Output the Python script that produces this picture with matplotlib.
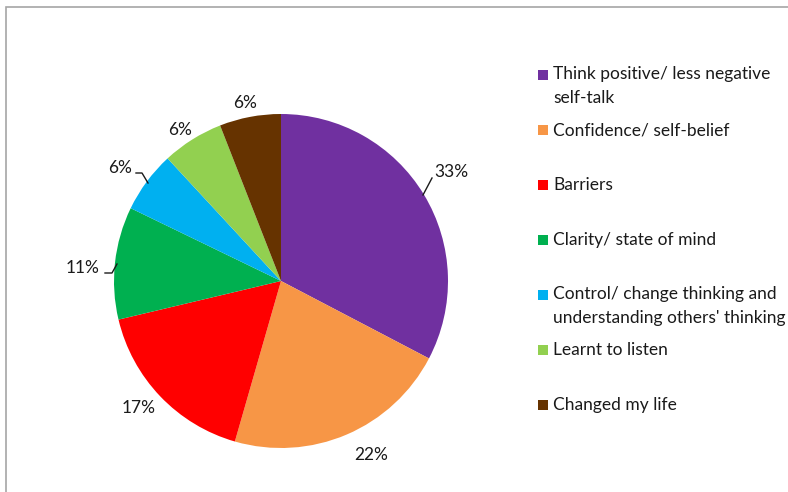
import matplotlib.pyplot as plt
from matplotlib.patches import Rectangle

plt.rcParams['font.family'] = ['Lato', 'DejaVu Sans']

categories = ["Think positive/ less negative\nself-talk",
              "Confidence/ self-belief",
              "Barriers",
              "Clarity/ state of mind",
              "Control/ change thinking and\nunderstanding others' thinking",
              "Learnt to listen",
              "Changed my life"]
values = [33, 22, 17, 11, 6, 6, 6]
colors = ['#7030A0', '#F79646', '#FF0000', '#00B050', '#00B0F0', '#92D050', '#663300']

W, H = 788, 492
fig = plt.figure(figsize=(W / 100, H / 100), dpi=100)

# outer chart border (cut off at right/bottom as in the source)
fig.add_artist(Rectangle((6 / W, -0.1), 1.2, (H - 7) / H + 0.1, transform=fig.transFigure,
                         fill=False, edgecolor='#a6a6a6', linewidth=1.2))

cx, cy, r = 281, 281, 167


def px(x, y):
    return (x - cx) / r, (cy - y) / r


ax = fig.add_axes([(cx - r) / W, (H - cy - r) / H, 2 * r / W, 2 * r / H])
wedges, _ = ax.pie(values, colors=colors, startangle=90, counterclock=False,
                   radius=1, wedgeprops=dict(linewidth=0))
ax.set_xlim(-1, 1)
ax.set_ylim(-1, 1)
ax.set_aspect('auto')
ax.axis('off')

pcts = ['{}%'.format(v) for v in values]

# label centres in pixel coordinates of the source
label_pos = [(451, 172), (371, 455), (139, 408), (83, 268), (120, 168), (180, 130), (245, 103)]
for p, (lx, ly) in zip(pcts, label_pos):
    tx, ty = px(lx, ly)
    ax.text(tx, ty, p, ha='center', va='center', fontsize=12.5, color='#1a1a1a', clip_on=False)

# leader lines
leaders = [[(432, 178), (423, 195)],
           [(105, 273), (112, 273), (117, 264)],
           [(136, 173), (142, 173), (148, 183)]]
for pts in leaders:
    xs, ys = zip(*[px(a, b) for a, b in pts])
    ax.plot(xs, ys, color='#1a1a1a', linewidth=1.0, clip_on=False)

# legend
for i, (lab, col) in enumerate(zip(categories, colors)):
    y = 75 + 55 * i
    fig.add_artist(Rectangle((538 / W, (H - y - 5) / H), 10 / W, 10 / H,
                             transform=fig.transFigure, facecolor=col, edgecolor='none'))
    if '\n' in lab:
        fig.text(553 / W, (H - y + 9) / H, lab, ha='left', va='top',
                 fontsize=12.5, color='#1a1a1a', linespacing=1.65)
    else:
        fig.text(553 / W, (H - y) / H, lab, ha='left', va='center',
                 fontsize=12.5, color='#1a1a1a')

fig.savefig('out.png', dpi=100)
